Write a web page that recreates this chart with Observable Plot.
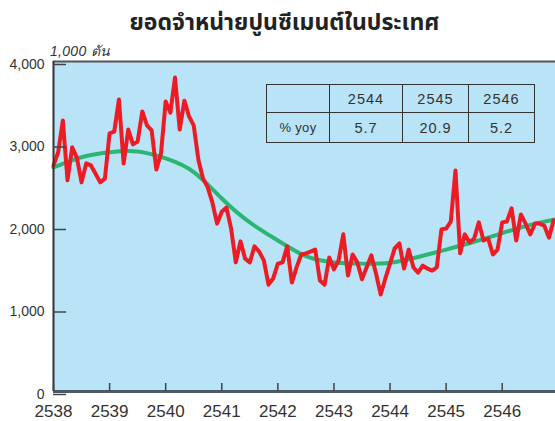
<!DOCTYPE html>
<html>
<head>
<meta charset="utf-8">
<script src="https://cdn.jsdelivr.net/npm/d3@7"></script>
<script src="https://cdn.jsdelivr.net/npm/@observablehq/plot@0.6"></script>
<style>
  html, body { margin: 0; padding: 0; background: #fff; }
  #wrap { position: relative; width: 555px; height: 421px; overflow: hidden; font-family: "Liberation Sans", Arial, sans-serif; color: #333; }
  #title { position: absolute; left: 0; width: 555px; top: 6px; text-align: center; font-family: "Noto Sans Thai", "Noto Sans", "DejaVu Sans", sans-serif; font-weight: bold; font-size: 23px; color: #222; padding-left: 14px; box-sizing: border-box; }
  #ylab { position: absolute; left: 50px; top: 40px; font-style: italic; font-size: 14px; color: #333; letter-spacing: 0.3px; }
  #tbl { position: absolute; left: 266px; top: 84px; border-collapse: collapse; font-size: 14.5px; color: #333; letter-spacing: 1px; }
  #tbl td { border: 1.5px solid #333; text-align: center; padding: 0; }
  #tbl tr.h td { height: 27px; }
  #tbl tr.d td { height: 29px; }
  #tbl td.lab { letter-spacing: 0.3px; font-size: 13px; }
</style>
</head>
<body>
<div id="wrap">
  <div id="title"></div>
  <div id="ylab"></div>
  <div id="chart"></div>
  <table id="tbl"></table>
</div>
<script>
// ---- data ----
const title = "ยอดจำหน่ายปูนซีเมนต์ในประเทศ";
const unitLabel = "1,000 ตัน";
const startYear = 2538;
// monthly domestic cement sales (1,000 tons), Jan 2538 .. Dec 2546
const sales = [
  2740, 2900, 3285, 2560, 2960, 2835, 2535, 2765, 2740, 2640, 2535, 2580,
  3130, 3150, 3540, 2765, 3175, 2995, 3030, 3395, 3225, 3165, 2690, 2885,
  3515, 3380, 3805, 3175, 3525, 3335, 3225, 2810, 2580, 2475, 2290, 2035,
  2180, 2230, 1975, 1565, 1820, 1610, 1565, 1760, 1695, 1590, 1295, 1370,
  1550, 1565, 1760, 1320, 1505, 1660, 1675, 1695, 1720, 1345, 1295, 1625,
  1480, 1590, 1905, 1405, 1660, 1565, 1360, 1505, 1650, 1430, 1175, 1370,
  1550, 1735, 1795, 1490, 1720, 1505, 1440, 1525, 1490, 1465, 1505, 1965,
  1975, 2060, 2680, 1675, 1905, 1805, 1855, 2050, 1830, 1855, 1660, 1720,
  2050, 2060, 2220, 1830, 2145, 2035, 1905, 2035, 2035, 2010, 1865, 2075
];
// smooth trend, read at half-year points
const trendYears = [2538, 2538.5, 2539, 2539.5, 2540, 2540.5, 2541, 2541.5, 2542, 2542.5,
                    2543, 2543.5, 2544, 2544.5, 2545, 2545.5, 2546, 2546.5, 2546.95];
const trendValues = [2715, 2840, 2900, 2910, 2825, 2660, 2340, 2050, 1830, 1640,
                     1565, 1550, 1560, 1630, 1720, 1815, 1920, 2020, 2085];
const xTicks = [2538, 2539, 2540, 2541, 2542, 2543, 2544, 2545, 2546];
const yTicks = [0, 1000, 2000, 3000, 4000];
const tableYears = ["2544", "2545", "2546"];
const tableRowLabel = "% yoy";
const tableValues = ["5.7", "20.9", "5.2"];

// ---- build ----
document.getElementById("title").textContent = title;
document.getElementById("ylab").textContent = unitLabel;

const salesData = sales.map((v, i) => ({t: startYear + i / 12, v}));
const trendData = trendYears.map((t, i) => ({t, v: trendValues[i]}));

const chart = Plot.plot({
  width: 555,
  height: 421,
  marginTop: 61,
  marginLeft: 53,
  marginRight: 0,
  marginBottom: 30,
  style: {fontFamily: "'Liberation Sans', Arial, sans-serif", color: "#333", background: "transparent"},
  x: {domain: [2538, 2546.95], label: null},
  y: {domain: [0, 4000], label: null},
  marks: [
    Plot.frame({fill: "#b9e3f7", stroke: null}),
    Plot.line(trendData, {x: "t", y: "v", stroke: "#2bb673", strokeWidth: 4, curve: "natural"}),
    Plot.line(salesData, {x: "t", y: "v", stroke: "#ed1c24", strokeWidth: 4}),
    Plot.ruleY([4000], {stroke: "#555", strokeWidth: 2}),
    Plot.ruleX([2538], {stroke: "#333", strokeWidth: 2}),
    Plot.ruleY([0], {stroke: "#4b5866", strokeWidth: 3}),
    Plot.axisY(yTicks, {tickSize: -13, tickPadding: 22, tickFormat: d3.format(","), fontSize: 14, stroke: "#444", strokeWidth: 1.5, dy: 3, label: null}),
    Plot.axisX(xTicks, {tickSize: -8, tickPadding: 21, tickFormat: d => String(d), fontSize: 17, stroke: "#444", strokeWidth: 1.5, label: null})
  ]
});
document.getElementById("chart").appendChild(chart);

// inset table
const tbl = document.getElementById("tbl");
const colW = [62, 72, 65, 65];
const hr = document.createElement("tr"); hr.className = "h";
const dr = document.createElement("tr"); dr.className = "d";
const c0 = document.createElement("td"); c0.style.width = colW[0] + "px"; hr.appendChild(c0);
const d0 = document.createElement("td"); d0.className = "lab"; d0.textContent = tableRowLabel; dr.appendChild(d0);
tableYears.forEach((y, i) => {
  const c = document.createElement("td"); c.textContent = y; c.style.width = colW[i + 1] + "px"; hr.appendChild(c);
  const d = document.createElement("td"); d.textContent = tableValues[i]; dr.appendChild(d);
});
tbl.appendChild(hr); tbl.appendChild(dr);
</script>
</body>
</html>
